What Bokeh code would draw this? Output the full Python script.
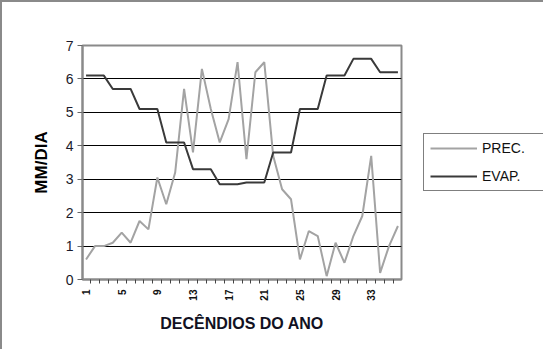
from bokeh.plotting import figure
from bokeh.models import Range1d, FixedTicker, Legend, LegendItem, ColumnDataSource
from bokeh.embed import file_html
from bokeh.resources import INLINE

decendios = [1, 2, 3, 4, 5, 6, 7, 8, 9, 10, 11, 12, 13, 14, 15, 16, 17, 18,
             19, 20, 21, 22, 23, 24, 25, 26, 27, 28, 29, 30, 31, 32, 33, 34, 35, 36]
prec = [0.6, 1.0, 1.0, 1.1, 1.4, 1.1, 1.75, 1.5, 3.05, 2.25, 3.2, 5.7,
        3.8, 6.3, 5.1, 4.1, 4.8, 6.5, 3.6, 6.2, 6.5, 3.7, 2.7, 2.4,
        0.6, 1.45, 1.3, 0.1, 1.1, 0.5, 1.3, 1.9, 3.7, 0.2, 1.0, 1.6]
evap = [6.1, 6.1, 6.1, 5.7, 5.7, 5.7, 5.1, 5.1, 5.1, 4.1, 4.1, 4.1,
        3.3, 3.3, 3.3, 2.85, 2.85, 2.85, 2.9, 2.9, 2.9, 3.8, 3.8, 3.8,
        5.1, 5.1, 5.1, 6.1, 6.1, 6.1, 6.6, 6.6, 6.6, 6.2, 6.2, 6.2]
x_labels = [1, 5, 9, 13, 17, 21, 25, 29, 33]
y_ticks = [0, 1, 2, 3, 4, 5, 6, 7]
boundaries = [1.5, 2.5, 3.5, 4.5, 5.5, 6.5, 7.5, 8.5, 9.5, 10.5, 11.5, 12.5,
              13.5, 14.5, 15.5, 16.5, 17.5, 18.5, 19.5, 20.5, 21.5, 22.5, 23.5,
              24.5, 25.5, 26.5, 27.5, 28.5, 29.5, 30.5, 31.5, 32.5, 33.5, 34.5, 35.5]

src = ColumnDataSource(dict(x=decendios, prec=prec, evap=evap))

p = figure(frame_width=319, frame_height=234,
           min_border_left=80, min_border_right=139, min_border_top=43, min_border_bottom=70,
           x_range=Range1d(0.6, 36.4), y_range=Range1d(0, 7),
           output_backend="svg", toolbar_location=None,
           styles={"border-left": "2px solid #8a8a8a", "border-top": "2px solid #8a8a8a"})

p.background_fill_color = "white"
p.border_fill_color = "white"
p.outline_line_color = "#8a8a8a"
p.outline_line_width = 2

# grid
p.xgrid.grid_line_color = None
p.ygrid.ticker = FixedTicker(ticks=[1, 2, 3, 4, 5, 6])
p.ygrid.grid_line_color = "black"
p.ygrid.grid_line_width = 1

# y axis
p.yaxis.ticker = FixedTicker(ticks=y_ticks)
p.yaxis.axis_line_color = "#8a8a8a"
p.yaxis.axis_line_width = 2
p.yaxis.major_tick_line_color = "#666666"
p.yaxis.major_tick_out = 5
p.yaxis.major_tick_in = 0
p.yaxis.minor_tick_line_color = None
p.yaxis.major_label_text_font = "Liberation Sans"
p.yaxis.major_label_text_font_size = "14px"
p.yaxis.major_label_text_color = "#1a1a2a"
p.yaxis.major_label_standoff = 4
p.yaxis.axis_label = "MM/DIA"
p.yaxis.axis_label_text_font = "Liberation Sans"
p.yaxis.axis_label_text_font_style = "bold"
p.yaxis.axis_label_text_font_size = "17px"
p.yaxis.axis_label_text_color = "black"
p.yaxis.axis_label_standoff = 12

# x axis
p.xaxis.ticker = FixedTicker(ticks=x_labels, minor_ticks=boundaries)
p.xaxis.axis_line_color = "#8a8a8a"
p.xaxis.axis_line_width = 2
p.xaxis.major_tick_out = 0
p.xaxis.major_tick_in = 0
p.xaxis.minor_tick_line_color = "#444444"
p.xaxis.minor_tick_out = 4
p.xaxis.minor_tick_in = 0
p.xaxis.major_label_orientation = 1.5708
p.xaxis.major_label_text_font = "Liberation Sans"
p.xaxis.major_label_text_font_style = "bold"
p.xaxis.major_label_text_font_size = "10px"
p.xaxis.major_label_text_color = "#111111"
p.xaxis.major_label_standoff = 6
p.xaxis.axis_label = "DECÊNDIOS DO ANO"
p.xaxis.axis_label_text_font = "Liberation Sans"
p.xaxis.axis_label_text_font_style = "bold"
p.xaxis.axis_label_text_font_size = "16px"
p.xaxis.axis_label_text_color = "#111122"
p.xaxis.axis_label_standoff = 11

r_prec = p.line("x", "prec", source=src, line_color="#a3a3a3", line_width=2)
r_evap = p.line("x", "evap", source=src, line_color="#3a3a3a", line_width=2)

legend = Legend(items=[LegendItem(label="PREC.", renderers=[r_prec]),
                       LegendItem(label="EVAP.", renderers=[r_evap])],
                location=(22, 88))
legend.border_line_color = "black"
legend.border_line_width = 1
legend.background_fill_color = "white"
legend.background_fill_alpha = 1
legend.padding = 6
legend.margin = 0
legend.spacing = 12
legend.glyph_width = 47
legend.glyph_height = 16
legend.label_height = 16
legend.label_width = 75
legend.label_standoff = 5
legend.label_text_font = "Liberation Sans"
legend.label_text_font_size = "14px"
legend.label_text_color = "#111111"
p.add_layout(legend, "right")

open("out.html", "w").write(file_html(p, INLINE))
